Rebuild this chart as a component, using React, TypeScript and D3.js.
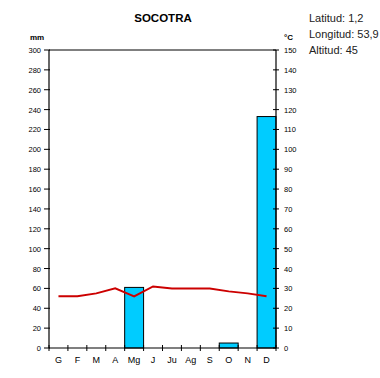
import React from "react";
import * as d3 from "d3";

const months = ["G", "F", "M", "A", "Mg", "J", "Ju", "Ag", "S", "O", "N", "D"];
const precipitation = [0, 0, 0, 0, 61, 0, 0, 0, 0, 5, 0, 233];
const temperature = [26, 26, 27.5, 30, 26, 31, 30, 30, 30, 28.5, 27.5, 26];
const mmTicks = d3.range(0, 301, 20);
const cTicks = d3.range(0, 151, 10);
const infoLines = ["Latitud: 1,2", "Longitud: 53,9", "Altitud: 45"];
const title = "SOCOTRA";

export default function App() {
  const W = 380, H = 378;
  const left = 49, right = 276, top = 50, bottom = 348;
  const x = d3.scaleBand<string>().domain(months).range([left, right]).padding(0);
  const yP = d3.scaleLinear().domain([0, 300]).range([bottom, top]);
  const yT = d3.scaleLinear().domain([0, 150]).range([bottom, top]);
  const line = d3
    .line<number>()
    .x((_, i) => (x(months[i]) as number) + x.bandwidth() / 2)
    .y((d) => yT(d));
  const font = "Arial, 'Liberation Sans', sans-serif";
  return (
    <svg
      width={W}
      height={H}
      style={{ position: "absolute", left: 0, top: 0, background: "#fff" }}
      fontFamily={font}
    >
      <rect x={0} y={0} width={W} height={H} fill="#fff" />
      <text x={163} y={22} textAnchor="middle" fontSize={11.5} fontWeight="bold" fill="#000">
        {title}
      </text>
      {infoLines.map((t, i) => (
        <text key={t} x={309} y={22 + i * 16} fontSize={11} fill="#222">
          {t}
        </text>
      ))}
      <text x={30} y={40} fontSize={8} fontWeight="bold" fill="#000">mm</text>
      <text x={284} y={40} fontSize={8} fontWeight="bold" fill="#000">°C</text>

      {precipitation.map((v, i) =>
        v > 0 ? (
          <rect
            key={months[i]}
            x={x(months[i]) as number}
            y={yP(v)}
            width={x.bandwidth()}
            height={bottom - yP(v)}
            fill="#00ccff"
            stroke="#000"
            strokeWidth={1}
          />
        ) : null
      )}

      <path d={line(temperature) || ""} fill="none" stroke="#cc0000" strokeWidth={2} />

      {/* frame */}
      <line x1={left} x2={right} y1={top} y2={top} stroke="#000" strokeWidth={1} />
      <line x1={left} x2={left} y1={top} y2={bottom} stroke="#000" strokeWidth={1.2} />
      <line x1={right} x2={right} y1={top} y2={bottom} stroke="#000" strokeWidth={1.2} />
      <line x1={left} x2={right} y1={bottom} y2={bottom} stroke="#000" strokeWidth={1.2} />

      {mmTicks.map((t) => (
        <g key={"l" + t}>
          <line x1={left - 5} x2={left + 1} y1={yP(t)} y2={yP(t)} stroke="#000" />
          <text x={41} y={yP(t) + 3} textAnchor="end" fontSize={7.5} fill="#000">
            {t}
          </text>
        </g>
      ))}
      {cTicks.map((t) => (
        <g key={"r" + t}>
          <line x1={right - 3} x2={right + 3} y1={yT(t)} y2={yT(t)} stroke="#000" />
          <text x={284} y={yT(t) + 3} textAnchor="start" fontSize={7.5} fill="#000">
            {t}
          </text>
        </g>
      ))}
      {months.map((m, i) => (
        <line
          key={"bt" + m}
          x1={x(m) as number}
          x2={x(m) as number}
          y1={bottom - 3}
          y2={bottom + 3}
          stroke="#000"
        />
      ))}
      <line x1={right} x2={right} y1={bottom - 3} y2={bottom + 3} stroke="#000" />
      {months.map((m) => (
        <text
          key={"ml" + m}
          x={(x(m) as number) + x.bandwidth() / 2}
          y={363}
          textAnchor="middle"
          fontSize={9}
          fill="#000"
        >
          {m}
        </text>
      ))}
    </svg>
  );
}
